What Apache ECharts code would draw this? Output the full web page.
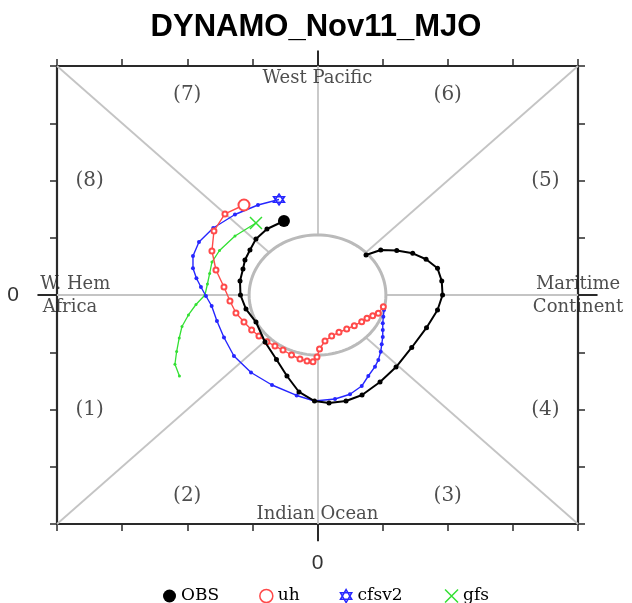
<!DOCTYPE html>
<html>
<head>
<meta charset="utf-8">
<script src="https://cdn.jsdelivr.net/npm/echarts@6/dist/echarts.min.js"></script>
<style>html,body{margin:0;padding:0;background:#fff}#c{width:632px;height:603px}</style>
</head>
<body>
<div id="c"></div>
<script>
// ---- data (RMM1, RMM2) ----
const obsData = [
  [-0.515,1.293],[-0.776,1.153],[-0.945,0.978],[-1.037,0.786],[-1.114,0.611],[-1.144,0.454],
  [-1.190,0.245],[-1.183,0.000],[-1.098,-0.245],[-0.945,-0.472],[-0.806,-0.821],[-0.630,-1.127],
  [-0.469,-1.415],[-0.284,-1.694],[-0.046,-1.852],[0.177,-1.887],[0.438,-1.852],[0.684,-1.747],
  [0.960,-1.520],[1.206,-1.258],[1.447,-0.917],[1.674,-0.571],[1.843,-0.262],[1.920,0.000],
  [1.908,0.245],[1.843,0.466],[1.667,0.624],[1.462,0.728],[1.217,0.777],[0.971,0.786],[0.745,0.699]
];
const uhData = [
  [-1.129,1.572],[-1.421,1.415],[-1.590,1.118],[-1.621,0.769],[-1.559,0.437],[-1.436,0.140],
  [-1.344,-0.105],[-1.252,-0.314],[-1.129,-0.472],[-1.011,-0.611],[-0.899,-0.716],[-0.776,-0.816],
  [-0.653,-0.891],[-0.530,-0.961],[-0.399,-1.048],[-0.269,-1.118],[-0.161,-1.153],[-0.069,-1.165],
  [-0.008,-1.083],[0.031,-0.943],[0.115,-0.803],[0.218,-0.716],[0.330,-0.652],[0.449,-0.594],
  [0.565,-0.536],[0.679,-0.466],[0.760,-0.407],[0.848,-0.362],[0.934,-0.320],[1.011,-0.204]
];
const cfsv2Data = [
  [-0.591,1.668],[-0.914,1.572],[-1.267,1.406],[-1.601,1.170],[-1.820,0.926],[-1.912,0.681],
  [-1.912,0.466],[-1.859,0.292],[-1.790,0.140],[-1.713,-0.017],[-1.625,-0.192],[-1.544,-0.454],
  [-1.436,-0.742],[-1.283,-1.066],[-1.021,-1.354],[-0.699,-1.572],[-0.320,-1.755],[-0.046,-1.852],
  [0.269,-1.817],[0.499,-1.734],[0.679,-1.590],[0.780,-1.415],[0.883,-1.252],[0.934,-1.135],
  [0.971,-0.990],[0.986,-0.861],[1.002,-0.734],[1.002,-0.611],[1.002,-0.494],[1.011,-0.379],[1.021,-0.262]
];
const gfsData = [
  [-0.945,1.258],[-1.267,1.031],[-1.505,0.777],[-1.621,0.576],[-1.656,0.376],[-1.690,0.192],
  [-1.728,0.000],[-1.866,-0.166],[-1.982,-0.349],[-2.081,-0.550],[-2.123,-0.751],[-2.163,-0.987],
  [-2.189,-1.210],[-2.120,-1.415]
];
const seriesNames = ['OBS','uh','cfsv2','gfs'];
const phaseLabels = ['(1)','(2)','(3)','(4)','(5)','(6)','(7)','(8)'];
const phasePos = [[-3.5,-2],[-2,-3.5],[2,-3.5],[3.5,-2],[3.5,2],[2,3.5],[-2,3.5],[-3.5,2]];
const regionLabels = ['West Pacific','Indian Ocean','W. Hem','Africa','Maritime','Continent'];
const regionPos = [[0,3.79],[0,-3.83],[-3.72,0.18],[-3.80,-0.21],[4,0.18],[4,-0.21]];
const axisMin = -4, axisMax = 4, axisStep = 1;
const circleR = 1.05;

// ---- build ----
const R45 = circleR * Math.SQRT1_2;
const guideSegs = [
  [[-4,4],[-R45,R45]],[[4,4],[R45,R45]],[[-4,-4],[-R45,-R45]],[[4,-4],[R45,-R45]],
  [[0,4],[0,circleR]],[[0,-4],[0,-circleR]],[[-4,0],[-circleR,0]],[[4,0],[circleR,0]]
];
const circlePts = [];
for (let a = 0; a <= 360; a += 3) {
  const t = a * Math.PI / 180;
  circlePts.push([circleR * Math.cos(t), circleR * Math.sin(t)]);
}
const longTicks = [
  [[0,-4],[0,-4.3]],[[0,4],[0,4.27]],[[-4,0],[-4.3,0]],[[4,0],[4.3,0]]
];
const hexPath = 'path://M0,-10L8.66,5L-8.66,5Z M0,10L8.66,-5L-8.66,-5Z';
const xPath = 'path://M-6,-6L6,6M-6,6L6,-6';
const cBlack = '#000000', cRed = '#ff4a4a', cBlue = '#2626ff', cGreen = '#33e033';
const serif = '"DejaVu Serif", serif';

function withFirst(data, first) {
  return data.map((p, i) => i === 0 ? Object.assign({value: p}, first) : p);
}

const frameAxis = {
  type: 'value', min: axisMin, max: axisMax, interval: axisStep,
  axisLine: {show: true, onZero: false, lineStyle: {color: '#2a2a2a', width: 2.2}},
  axisTick: {show: true, inside: false, length: 7, lineStyle: {color: '#2a2a2a', width: 1.5}},
  splitLine: {show: false}
};

const chart = echarts.init(document.getElementById('c'), null, {renderer: 'canvas'});
chart.setOption({
  animation: false,
  backgroundColor: '#fff',
  title: {
    text: 'DYNAMO_Nov11_MJO', left: 'center', top: 7,
    textStyle: {fontFamily: '"Liberation Sans", Arial, sans-serif', fontWeight: 'bold', fontSize: 31, color: '#000'}
  },
  grid: {left: 57, right: 54, top: 66, bottom: 79},
  xAxis: [
    Object.assign({}, frameAxis, {position: 'bottom',
      axisLabel: {show: true, formatter: v => v === 0 ? '0' : '', margin: 29, fontSize: 21,
        color: '#333', fontFamily: '"Liberation Sans", sans-serif'}}),
    Object.assign({}, frameAxis, {position: 'top', axisLabel: {show: false}})
  ],
  yAxis: [
    Object.assign({}, frameAxis, {position: 'left',
      axisLabel: {show: true, formatter: v => v === 0 ? '0' : '', margin: 38, fontSize: 21,
        color: '#333', fontFamily: '"Liberation Sans", sans-serif'}}),
    Object.assign({}, frameAxis, {position: 'right', axisLabel: {show: false}})
  ],
  legend: {
    top: 587, left: 163, itemGap: 40, itemWidth: 13, itemHeight: 13, padding: 0,
    textStyle: {fontFamily: serif, fontSize: 17, lineHeight: 16, color: '#000'},
    data: [
      {name: 'OBS', icon: 'circle', itemStyle: {color: cBlack}},
      {name: 'uh', icon: 'circle', itemStyle: {color: '#fff', borderColor: cRed, borderWidth: 1.5}},
      {name: 'cfsv2', icon: hexPath, itemStyle: {color: '#fff', borderColor: cBlue, borderWidth: 1.5}},
      {name: 'gfs', icon: xPath, itemStyle: {color: 'none', borderColor: cGreen, borderWidth: 1.5}}
    ]
  },
  series: [
    {type: 'lines', coordinateSystem: 'cartesian2d', silent: true, z: 1,
     lineStyle: {color: '#c4c4c4', width: 1.8, opacity: 1},
     data: guideSegs.map(s => ({coords: s}))},
    {type: 'line', silent: true, z: 1, showSymbol: false, symbol: 'none',
     lineStyle: {color: '#bababa', width: 3}, data: circlePts},
    {type: 'lines', coordinateSystem: 'cartesian2d', silent: true, z: 3, clip: false,
     lineStyle: {color: '#2a2a2a', width: 2, opacity: 1},
     data: longTicks.map(s => ({coords: s}))},
    {type: 'scatter', silent: true, z: 2, symbolSize: 1, itemStyle: {color: 'rgba(0,0,0,0)'},
     label: {show: true, position: 'inside', formatter: '{b}', fontFamily: serif, fontSize: 20, color: '#222'},
     data: phaseLabels.map((t, i) => ({name: t, value: phasePos[i]}))},
    {type: 'scatter', silent: true, z: 2, clip: false, symbolSize: 1, itemStyle: {color: 'rgba(0,0,0,0)'},
     label: {show: true, position: 'inside', formatter: '{b}', fontFamily: serif, fontSize: 18, color: '#222'},
     data: regionLabels.map((t, i) => ({name: t, value: regionPos[i]}))},
    {name: 'gfs', type: 'line', z: 4, color: cGreen, symbol: 'circle', symbolSize: 3,
     lineStyle: {color: cGreen, width: 1.3}, itemStyle: {color: cGreen},
     data: withFirst(gfsData, {symbol: xPath, symbolSize: 12,
       itemStyle: {color: 'none', borderColor: cGreen, borderWidth: 1.5}})},
    {name: 'cfsv2', type: 'line', z: 5, color: cBlue, symbol: 'circle', symbolSize: 4,
     lineStyle: {color: cBlue, width: 1.4}, itemStyle: {color: cBlue},
     data: withFirst(cfsv2Data, {symbol: hexPath, symbolSize: 11,
       itemStyle: {color: '#fff', borderColor: cBlue, borderWidth: 1.5}})},
    {name: 'uh', type: 'line', z: 6, color: cRed, symbol: 'emptyCircle', symbolSize: 5,
     lineStyle: {color: cRed, width: 1.4}, itemStyle: {color: cRed, borderWidth: 1},
     data: withFirst(uhData, {symbol: 'emptyCircle', symbolSize: 11,
       itemStyle: {color: cRed, borderColor: cRed, borderWidth: 1.5}})},
    {name: 'OBS', type: 'line', z: 7, color: cBlack, symbol: 'circle', symbolSize: 5,
     lineStyle: {color: cBlack, width: 2}, itemStyle: {color: cBlack},
     data: withFirst(obsData, {symbol: 'circle', symbolSize: 12})}
  ]
});
</script>
</body>
</html>
